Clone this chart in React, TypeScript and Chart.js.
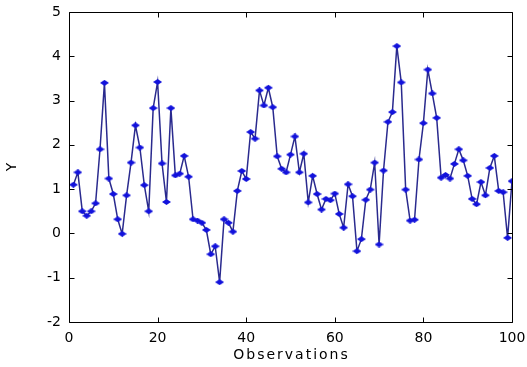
import React, { useEffect, useRef } from "react";
import { Chart, registerables } from "chart.js";

Chart.register(...registerables);

const observations = [
  1, 2, 3, 4, 5, 6, 7, 8, 9, 10,
  11, 12, 13, 14, 15, 16, 17, 18, 19, 20,
  21, 22, 23, 24, 25, 26, 27, 28, 29, 30,
  31, 32, 33, 34, 35, 36, 37, 38, 39, 40,
  41, 42, 43, 44, 45, 46, 47, 48, 49, 50,
  51, 52, 53, 54, 55, 56, 57, 58, 59, 60,
  61, 62, 63, 64, 65, 66, 67, 68, 69, 70,
  71, 72, 73, 74, 75, 76, 77, 78, 79, 80,
  81, 82, 83, 84, 85, 86, 87, 88, 89, 90,
  91, 92, 93, 94, 95, 96, 97, 98, 99, 100,
];

const yValues = [
  1.10, 1.38, 0.50, 0.40, 0.50, 0.68, 1.90, 3.40, 1.24, 0.89,
  0.32, -0.01, 0.86, 1.60, 2.44, 1.94, 1.09, 0.50, 2.83, 3.42,
  1.58, 0.71, 2.83, 1.31, 1.35, 1.75, 1.28, 0.32, 0.29, 0.24,
  0.08, -0.47, -0.29, -1.10, 0.32, 0.24, 0.04, 0.96, 1.41, 1.23,
  2.29, 2.14, 3.23, 2.89, 3.29, 2.85, 1.74, 1.46, 1.38, 1.78,
  2.19, 1.38, 1.80, 0.70, 1.30, 0.89, 0.54, 0.78, 0.75, 0.90,
  0.44, 0.13, 1.11, 0.84, -0.40, -0.13, 0.76, 0.99, 1.60, -0.25,
  1.42, 2.52, 2.74, 4.23, 3.41, 0.99, 0.29, 0.31, 1.67, 2.49,
  3.70, 3.16, 2.61, 1.26, 1.32, 1.24, 1.57, 1.90, 1.65, 1.30,
  0.78, 0.66, 1.16, 0.86, 1.48, 1.75, 0.96, 0.93, -0.10, 1.18,
];

const xTicks = [0, 20, 40, 60, 80, 100];
const yTicks = [-2, -1, 0, 1, 2, 3, 4, 5];
const xTitle = "Observations";
const yTitle = "Y";

const FONT = "DejaVu Sans";

export default function App() {
  const ref = useRef<HTMLCanvasElement>(null);

  useEffect(() => {
    document.body.style.margin = "0";
    const canvas = ref.current;
    if (!canvas) return;

    const marker = document.createElement("canvas");
    marker.width = 9;
    marker.height = 6;
    const mctx = marker.getContext("2d")!;
    mctx.fillStyle = "#1212dc";
    mctx.beginPath();
    mctx.moveTo(0, 3);
    mctx.lineTo(4.5, 0);
    mctx.lineTo(9, 3);
    mctx.lineTo(4.5, 6);
    mctx.closePath();
    mctx.fill();

    const framePlugin = {
      id: "matlabFrame",
      afterDraw(chart: any) {
        const { ctx, chartArea } = chart;
        const { left, right, top, bottom } = chartArea;
        const xs = chart.scales.x;
        const ys = chart.scales.y;
        ctx.save();
        ctx.strokeStyle = "#000";
        ctx.lineWidth = 1;
        const l = Math.round(left) + 0.5;
        const r = Math.round(right) + 0.5;
        const t = Math.round(top) + 0.5;
        const b = Math.round(bottom) + 0.5;
        ctx.beginPath();
        ctx.rect(l, t, r - l, b - t);
        ctx.stroke();
        const tl = 5;
        ctx.beginPath();
        xTicks.forEach((v) => {
          const px = Math.round(xs.getPixelForValue(v)) + 0.5;
          ctx.moveTo(px, b);
          ctx.lineTo(px, b - tl);
          ctx.moveTo(px, t);
          ctx.lineTo(px, t + tl);
        });
        yTicks.forEach((v) => {
          const py = Math.round(ys.getPixelForValue(v)) + 0.5;
          ctx.moveTo(l, py);
          ctx.lineTo(l + tl, py);
          ctx.moveTo(r, py);
          ctx.lineTo(r - tl, py);
        });
        ctx.stroke();

        ctx.fillStyle = "#000";
        ctx.font = `14px "${FONT}"`;
        ctx.textAlign = "center";
        ctx.textBaseline = "middle";
        (ctx as any).letterSpacing = "2px";
        ctx.fillText(xTitle, (left + right) / 2 + 1, 355);
        (ctx as any).letterSpacing = "0px";
        ctx.save();
        ctx.translate(12, (top + bottom) / 2);
        ctx.rotate(-Math.PI / 2);
        ctx.fillText(yTitle, 0, 0);
        ctx.restore();
        ctx.restore();
      },
    };

    const chart = new Chart(canvas, {
      type: "line",
      data: {
        datasets: [
          {
            data: observations.map((x, i) => ({ x, y: yValues[i] })),
            borderColor: "#2a2a8e",
            borderWidth: 1.5,
            pointStyle: marker as any,
            pointRadius: 4,
            pointBackgroundColor: "#1212dc",
            pointBorderColor: "#1212dc",
            tension: 0,
            fill: false,
          },
        ],
      },
      options: {
        animation: false,
        responsive: false,
        devicePixelRatio: 1,
        layout: { padding: { top: 12, right: 15, left: 0, bottom: 0 } },
        plugins: {
          legend: { display: false },
          tooltip: { enabled: false },
        },
        scales: {
          x: {
            type: "linear",
            min: 0,
            max: 100,
            grid: { display: false, drawTicks: false },
            border: { display: false },
            afterBuildTicks: (scale: any) => {
              scale.ticks = xTicks.map((v) => ({ value: v }));
            },
            afterFit: (scale: any) => {
              scale.height = 45;
              scale.paddingLeft = 0;
              scale.paddingRight = 0;
            },
            ticks: {
              padding: 8,
              color: "#000",
              font: { family: FONT, size: 14 },
              maxRotation: 0,
              autoSkip: false,
            },
          },
          y: {
            type: "linear",
            min: -2,
            max: 5,
            grid: { display: false, drawTicks: false },
            border: { display: false },
            afterBuildTicks: (scale: any) => {
              scale.ticks = yTicks.map((v) => ({ value: v }));
            },
            afterFit: (scale: any) => {
              scale.width = 69;
              scale.paddingTop = 0;
              scale.paddingBottom = 0;
            },
            ticks: {
              padding: 8,
              color: "#000",
              font: { family: FONT, size: 14 },
              autoSkip: false,
            },
          },
        },
      },
      plugins: [framePlugin],
    });

    return () => chart.destroy();
  }, []);

  return (
    <div style={{ position: "fixed", left: 0, top: 0, width: 527, height: 367 }}>
      <canvas ref={ref} width={527} height={367} style={{ display: "block" }} />
    </div>
  );
}
